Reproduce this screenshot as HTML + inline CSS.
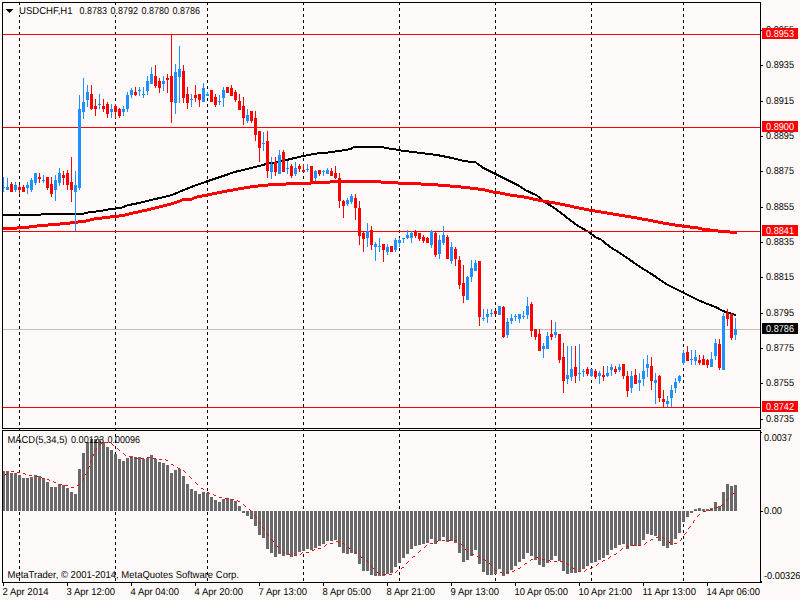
<!DOCTYPE html>
<html><head><meta charset="utf-8"><title>USDCHF,H1</title>
<style>html,body{margin:0;padding:0;background:#FFFAFA;overflow:hidden}svg{display:block}text{font-family:"Liberation Sans",sans-serif;font-size:10px;fill:#000;text-rendering:geometricPrecision}.w{fill:#fff}</style></head><body>
<svg width="800" height="600" viewBox="0 0 800 600">
<rect width="800" height="600" fill="#FFFAFA"/>
<g shape-rendering="crispEdges">
<line x1="19.5" y1="2" x2="19.5" y2="582" stroke="#000" stroke-width="1" stroke-dasharray="3 3"/>
<line x1="115.5" y1="2" x2="115.5" y2="582" stroke="#000" stroke-width="1" stroke-dasharray="3 3"/>
<line x1="207.5" y1="2" x2="207.5" y2="582" stroke="#000" stroke-width="1" stroke-dasharray="3 3"/>
<line x1="303.5" y1="2" x2="303.5" y2="582" stroke="#000" stroke-width="1" stroke-dasharray="3 3"/>
<line x1="399.5" y1="2" x2="399.5" y2="582" stroke="#000" stroke-width="1" stroke-dasharray="3 3"/>
<line x1="495.5" y1="2" x2="495.5" y2="582" stroke="#000" stroke-width="1" stroke-dasharray="3 3"/>
<line x1="591.5" y1="2" x2="591.5" y2="582" stroke="#000" stroke-width="1" stroke-dasharray="3 3"/>
<line x1="683.5" y1="2" x2="683.5" y2="582" stroke="#000" stroke-width="1" stroke-dasharray="3 3"/>
<rect x="3" y="329" width="757" height="1" fill="#C0C0C0"/>
<rect x="2" y="471" width="3" height="40" fill="#696969"/>
<rect x="6" y="471" width="3" height="40" fill="#696969"/>
<rect x="10" y="473" width="3" height="38" fill="#696969"/>
<rect x="14" y="473" width="3" height="38" fill="#696969"/>
<rect x="18" y="475" width="3" height="36" fill="#696969"/>
<rect x="22" y="478" width="3" height="33" fill="#696969"/>
<rect x="26" y="478" width="3" height="33" fill="#696969"/>
<rect x="30" y="477" width="3" height="34" fill="#696969"/>
<rect x="34" y="475" width="3" height="36" fill="#696969"/>
<rect x="38" y="476" width="3" height="35" fill="#696969"/>
<rect x="42" y="478" width="3" height="33" fill="#696969"/>
<rect x="46" y="482" width="3" height="29" fill="#696969"/>
<rect x="50" y="487" width="3" height="24" fill="#696969"/>
<rect x="54" y="487" width="3" height="24" fill="#696969"/>
<rect x="58" y="484" width="3" height="27" fill="#696969"/>
<rect x="62" y="485" width="3" height="26" fill="#696969"/>
<rect x="66" y="488" width="3" height="23" fill="#696969"/>
<rect x="70" y="492" width="3" height="19" fill="#696969"/>
<rect x="74" y="494" width="3" height="17" fill="#696969"/>
<rect x="78" y="469" width="3" height="42" fill="#696969"/>
<rect x="82" y="453" width="3" height="58" fill="#696969"/>
<rect x="86" y="442" width="3" height="69" fill="#696969"/>
<rect x="90" y="439" width="3" height="72" fill="#696969"/>
<rect x="94" y="439" width="3" height="72" fill="#696969"/>
<rect x="98" y="439" width="3" height="72" fill="#696969"/>
<rect x="102" y="442" width="3" height="69" fill="#696969"/>
<rect x="106" y="447" width="3" height="64" fill="#696969"/>
<rect x="110" y="450" width="3" height="61" fill="#696969"/>
<rect x="114" y="454" width="3" height="57" fill="#696969"/>
<rect x="118" y="459" width="3" height="52" fill="#696969"/>
<rect x="122" y="461" width="3" height="50" fill="#696969"/>
<rect x="126" y="458" width="3" height="53" fill="#696969"/>
<rect x="130" y="456" width="3" height="55" fill="#696969"/>
<rect x="134" y="457" width="3" height="54" fill="#696969"/>
<rect x="138" y="457" width="3" height="54" fill="#696969"/>
<rect x="142" y="459" width="3" height="52" fill="#696969"/>
<rect x="146" y="458" width="3" height="53" fill="#696969"/>
<rect x="150" y="455" width="3" height="56" fill="#696969"/>
<rect x="154" y="459" width="3" height="52" fill="#696969"/>
<rect x="158" y="462" width="3" height="49" fill="#696969"/>
<rect x="162" y="463" width="3" height="48" fill="#696969"/>
<rect x="166" y="465" width="3" height="46" fill="#696969"/>
<rect x="170" y="473" width="3" height="38" fill="#696969"/>
<rect x="174" y="470" width="3" height="41" fill="#696969"/>
<rect x="178" y="469" width="3" height="42" fill="#696969"/>
<rect x="182" y="476" width="3" height="35" fill="#696969"/>
<rect x="186" y="484" width="3" height="27" fill="#696969"/>
<rect x="190" y="489" width="3" height="22" fill="#696969"/>
<rect x="194" y="491" width="3" height="20" fill="#696969"/>
<rect x="198" y="494" width="3" height="17" fill="#696969"/>
<rect x="202" y="492" width="3" height="19" fill="#696969"/>
<rect x="206" y="493" width="3" height="18" fill="#696969"/>
<rect x="210" y="497" width="3" height="14" fill="#696969"/>
<rect x="214" y="500" width="3" height="11" fill="#696969"/>
<rect x="218" y="502" width="3" height="9" fill="#696969"/>
<rect x="222" y="499" width="3" height="12" fill="#696969"/>
<rect x="226" y="498" width="3" height="13" fill="#696969"/>
<rect x="230" y="499" width="3" height="12" fill="#696969"/>
<rect x="234" y="501" width="3" height="10" fill="#696969"/>
<rect x="238" y="506" width="3" height="5" fill="#696969"/>
<rect x="242" y="511" width="3" height="2" fill="#696969"/>
<rect x="246" y="511" width="3" height="5" fill="#696969"/>
<rect x="250" y="511" width="3" height="8" fill="#696969"/>
<rect x="254" y="511" width="3" height="15" fill="#696969"/>
<rect x="258" y="511" width="3" height="24" fill="#696969"/>
<rect x="262" y="511" width="3" height="27" fill="#696969"/>
<rect x="266" y="511" width="3" height="38" fill="#696969"/>
<rect x="270" y="511" width="3" height="42" fill="#696969"/>
<rect x="274" y="511" width="3" height="46" fill="#696969"/>
<rect x="278" y="511" width="3" height="43" fill="#696969"/>
<rect x="282" y="511" width="3" height="45" fill="#696969"/>
<rect x="286" y="511" width="3" height="44" fill="#696969"/>
<rect x="290" y="511" width="3" height="46" fill="#696969"/>
<rect x="294" y="511" width="3" height="44" fill="#696969"/>
<rect x="298" y="511" width="3" height="41" fill="#696969"/>
<rect x="302" y="511" width="3" height="40" fill="#696969"/>
<rect x="306" y="511" width="3" height="38" fill="#696969"/>
<rect x="310" y="511" width="3" height="39" fill="#696969"/>
<rect x="314" y="511" width="3" height="37" fill="#696969"/>
<rect x="318" y="511" width="3" height="35" fill="#696969"/>
<rect x="322" y="511" width="3" height="33" fill="#696969"/>
<rect x="326" y="511" width="3" height="30" fill="#696969"/>
<rect x="330" y="511" width="3" height="30" fill="#696969"/>
<rect x="334" y="511" width="3" height="29" fill="#696969"/>
<rect x="338" y="511" width="3" height="36" fill="#696969"/>
<rect x="342" y="511" width="3" height="42" fill="#696969"/>
<rect x="346" y="511" width="3" height="43" fill="#696969"/>
<rect x="350" y="511" width="3" height="42" fill="#696969"/>
<rect x="354" y="511" width="3" height="43" fill="#696969"/>
<rect x="358" y="511" width="3" height="53" fill="#696969"/>
<rect x="362" y="511" width="3" height="60" fill="#696969"/>
<rect x="366" y="511" width="3" height="60" fill="#696969"/>
<rect x="370" y="511" width="3" height="64" fill="#696969"/>
<rect x="374" y="511" width="3" height="65" fill="#696969"/>
<rect x="378" y="511" width="3" height="65" fill="#696969"/>
<rect x="382" y="511" width="3" height="65" fill="#696969"/>
<rect x="386" y="511" width="3" height="63" fill="#696969"/>
<rect x="390" y="511" width="3" height="62" fill="#696969"/>
<rect x="394" y="511" width="3" height="56" fill="#696969"/>
<rect x="398" y="511" width="3" height="52" fill="#696969"/>
<rect x="402" y="511" width="3" height="47" fill="#696969"/>
<rect x="406" y="511" width="3" height="43" fill="#696969"/>
<rect x="410" y="511" width="3" height="38" fill="#696969"/>
<rect x="414" y="511" width="3" height="35" fill="#696969"/>
<rect x="418" y="511" width="3" height="34" fill="#696969"/>
<rect x="422" y="511" width="3" height="33" fill="#696969"/>
<rect x="426" y="511" width="3" height="32" fill="#696969"/>
<rect x="430" y="511" width="3" height="28" fill="#696969"/>
<rect x="434" y="511" width="3" height="33" fill="#696969"/>
<rect x="438" y="511" width="3" height="30" fill="#696969"/>
<rect x="442" y="511" width="3" height="26" fill="#696969"/>
<rect x="446" y="511" width="3" height="31" fill="#696969"/>
<rect x="450" y="511" width="3" height="30" fill="#696969"/>
<rect x="454" y="511" width="3" height="32" fill="#696969"/>
<rect x="458" y="511" width="3" height="42" fill="#696969"/>
<rect x="462" y="511" width="3" height="51" fill="#696969"/>
<rect x="466" y="511" width="3" height="49" fill="#696969"/>
<rect x="470" y="511" width="3" height="45" fill="#696969"/>
<rect x="474" y="511" width="3" height="39" fill="#696969"/>
<rect x="478" y="511" width="3" height="53" fill="#696969"/>
<rect x="482" y="511" width="3" height="61" fill="#696969"/>
<rect x="486" y="511" width="3" height="64" fill="#696969"/>
<rect x="490" y="511" width="3" height="64" fill="#696969"/>
<rect x="494" y="511" width="3" height="63" fill="#696969"/>
<rect x="498" y="511" width="3" height="58" fill="#696969"/>
<rect x="502" y="511" width="3" height="65" fill="#696969"/>
<rect x="506" y="511" width="3" height="63" fill="#696969"/>
<rect x="510" y="511" width="3" height="59" fill="#696969"/>
<rect x="514" y="511" width="3" height="55" fill="#696969"/>
<rect x="518" y="511" width="3" height="51" fill="#696969"/>
<rect x="522" y="511" width="3" height="48" fill="#696969"/>
<rect x="526" y="511" width="3" height="42" fill="#696969"/>
<rect x="530" y="511" width="3" height="45" fill="#696969"/>
<rect x="534" y="511" width="3" height="49" fill="#696969"/>
<rect x="538" y="511" width="3" height="54" fill="#696969"/>
<rect x="542" y="511" width="3" height="56" fill="#696969"/>
<rect x="546" y="511" width="3" height="52" fill="#696969"/>
<rect x="550" y="511" width="3" height="49" fill="#696969"/>
<rect x="554" y="511" width="3" height="45" fill="#696969"/>
<rect x="558" y="511" width="3" height="50" fill="#696969"/>
<rect x="562" y="511" width="3" height="60" fill="#696969"/>
<rect x="566" y="511" width="3" height="63" fill="#696969"/>
<rect x="570" y="511" width="3" height="62" fill="#696969"/>
<rect x="574" y="511" width="3" height="62" fill="#696969"/>
<rect x="578" y="511" width="3" height="60" fill="#696969"/>
<rect x="582" y="511" width="3" height="58" fill="#696969"/>
<rect x="586" y="511" width="3" height="55" fill="#696969"/>
<rect x="590" y="511" width="3" height="52" fill="#696969"/>
<rect x="594" y="511" width="3" height="51" fill="#696969"/>
<rect x="598" y="511" width="3" height="49" fill="#696969"/>
<rect x="602" y="511" width="3" height="47" fill="#696969"/>
<rect x="606" y="511" width="3" height="44" fill="#696969"/>
<rect x="610" y="511" width="3" height="39" fill="#696969"/>
<rect x="614" y="511" width="3" height="37" fill="#696969"/>
<rect x="618" y="511" width="3" height="34" fill="#696969"/>
<rect x="622" y="511" width="3" height="33" fill="#696969"/>
<rect x="626" y="511" width="3" height="38" fill="#696969"/>
<rect x="630" y="511" width="3" height="35" fill="#696969"/>
<rect x="634" y="511" width="3" height="35" fill="#696969"/>
<rect x="638" y="511" width="3" height="35" fill="#696969"/>
<rect x="642" y="511" width="3" height="29" fill="#696969"/>
<rect x="646" y="511" width="3" height="23" fill="#696969"/>
<rect x="650" y="511" width="3" height="24" fill="#696969"/>
<rect x="654" y="511" width="3" height="25" fill="#696969"/>
<rect x="658" y="511" width="3" height="30" fill="#696969"/>
<rect x="662" y="511" width="3" height="35" fill="#696969"/>
<rect x="666" y="511" width="3" height="37" fill="#696969"/>
<rect x="670" y="511" width="3" height="34" fill="#696969"/>
<rect x="674" y="511" width="3" height="28" fill="#696969"/>
<rect x="678" y="511" width="3" height="22" fill="#696969"/>
<rect x="682" y="511" width="3" height="11" fill="#696969"/>
<rect x="686" y="511" width="3" height="6" fill="#696969"/>
<rect x="690" y="511" width="3" height="2" fill="#696969"/>
<rect x="694" y="509" width="3" height="2" fill="#696969"/>
<rect x="698" y="508" width="3" height="3" fill="#696969"/>
<rect x="702" y="509" width="3" height="2" fill="#696969"/>
<rect x="706" y="509" width="3" height="2" fill="#696969"/>
<rect x="710" y="508" width="3" height="3" fill="#696969"/>
<rect x="714" y="502" width="3" height="9" fill="#696969"/>
<rect x="718" y="506" width="3" height="5" fill="#696969"/>
<rect x="722" y="492" width="3" height="19" fill="#696969"/>
<rect x="726" y="484" width="3" height="27" fill="#696969"/>
<rect x="730" y="486" width="3" height="25" fill="#696969"/>
<rect x="734" y="485" width="3" height="26" fill="#696969"/>
</g>
<g shape-rendering="crispEdges" fill="none">
<rect x="3" y="214" width="38" height="2" fill="#000"/>
<rect x="41" y="213" width="43" height="2" fill="#000"/>
<rect x="84" y="212" width="4" height="2" fill="#000"/>
<rect x="88" y="211" width="8" height="2" fill="#000"/>
<rect x="96" y="210" width="7" height="2" fill="#000"/>
<rect x="103" y="209" width="5" height="2" fill="#000"/>
<rect x="108" y="208" width="8" height="2" fill="#000"/>
<rect x="116" y="207" width="6" height="2" fill="#000"/>
<rect x="122" y="206" width="2" height="2" fill="#000"/>
<rect x="124" y="205" width="1" height="3" fill="#000"/>
<rect x="125" y="205" width="2" height="2" fill="#000"/>
<rect x="127" y="204" width="4" height="2" fill="#000"/>
<rect x="131" y="203" width="1" height="3" fill="#000"/>
<rect x="132" y="203" width="4" height="2" fill="#000"/>
<rect x="136" y="202" width="1" height="3" fill="#000"/>
<rect x="137" y="202" width="4" height="2" fill="#000"/>
<rect x="141" y="201" width="4" height="2" fill="#000"/>
<rect x="145" y="200" width="4" height="2" fill="#000"/>
<rect x="149" y="199" width="4" height="2" fill="#000"/>
<rect x="153" y="198" width="4" height="2" fill="#000"/>
<rect x="157" y="197" width="1" height="3" fill="#000"/>
<rect x="158" y="197" width="4" height="2" fill="#000"/>
<rect x="162" y="196" width="4" height="2" fill="#000"/>
<rect x="166" y="195" width="4" height="2" fill="#000"/>
<rect x="170" y="194" width="3" height="2" fill="#000"/>
<rect x="173" y="193" width="2" height="2" fill="#000"/>
<rect x="175" y="192" width="1" height="3" fill="#000"/>
<rect x="176" y="192" width="2" height="2" fill="#000"/>
<rect x="178" y="191" width="2" height="2" fill="#000"/>
<rect x="180" y="190" width="2" height="2" fill="#000"/>
<rect x="182" y="189" width="1" height="3" fill="#000"/>
<rect x="183" y="189" width="2" height="2" fill="#000"/>
<rect x="185" y="188" width="2" height="2" fill="#000"/>
<rect x="187" y="187" width="1" height="3" fill="#000"/>
<rect x="188" y="187" width="2" height="2" fill="#000"/>
<rect x="190" y="186" width="2" height="2" fill="#000"/>
<rect x="192" y="185" width="1" height="3" fill="#000"/>
<rect x="193" y="185" width="2" height="2" fill="#000"/>
<rect x="195" y="184" width="3" height="2" fill="#000"/>
<rect x="198" y="183" width="3" height="2" fill="#000"/>
<rect x="201" y="182" width="3" height="2" fill="#000"/>
<rect x="204" y="181" width="2" height="2" fill="#000"/>
<rect x="206" y="180" width="1" height="3" fill="#000"/>
<rect x="207" y="180" width="2" height="2" fill="#000"/>
<rect x="209" y="179" width="1" height="3" fill="#000"/>
<rect x="210" y="179" width="2" height="2" fill="#000"/>
<rect x="212" y="178" width="1" height="3" fill="#000"/>
<rect x="213" y="178" width="2" height="2" fill="#000"/>
<rect x="215" y="177" width="1" height="3" fill="#000"/>
<rect x="216" y="177" width="2" height="2" fill="#000"/>
<rect x="218" y="176" width="1" height="3" fill="#000"/>
<rect x="219" y="176" width="2" height="2" fill="#000"/>
<rect x="221" y="175" width="1" height="3" fill="#000"/>
<rect x="222" y="175" width="2" height="2" fill="#000"/>
<rect x="224" y="174" width="1" height="3" fill="#000"/>
<rect x="225" y="174" width="2" height="2" fill="#000"/>
<rect x="227" y="173" width="1" height="3" fill="#000"/>
<rect x="228" y="173" width="2" height="2" fill="#000"/>
<rect x="230" y="172" width="3" height="2" fill="#000"/>
<rect x="233" y="171" width="3" height="2" fill="#000"/>
<rect x="236" y="170" width="1" height="3" fill="#000"/>
<rect x="237" y="170" width="4" height="2" fill="#000"/>
<rect x="241" y="169" width="4" height="2" fill="#000"/>
<rect x="245" y="168" width="4" height="2" fill="#000"/>
<rect x="249" y="167" width="4" height="2" fill="#000"/>
<rect x="253" y="166" width="4" height="2" fill="#000"/>
<rect x="257" y="165" width="4" height="2" fill="#000"/>
<rect x="261" y="164" width="3" height="2" fill="#000"/>
<rect x="264" y="163" width="1" height="3" fill="#000"/>
<rect x="265" y="163" width="4" height="2" fill="#000"/>
<rect x="269" y="162" width="7" height="2" fill="#000"/>
<rect x="276" y="161" width="4" height="2" fill="#000"/>
<rect x="280" y="160" width="4" height="2" fill="#000"/>
<rect x="284" y="159" width="4" height="2" fill="#000"/>
<rect x="288" y="158" width="1" height="3" fill="#000"/>
<rect x="289" y="158" width="3" height="2" fill="#000"/>
<rect x="292" y="157" width="1" height="3" fill="#000"/>
<rect x="293" y="157" width="4" height="2" fill="#000"/>
<rect x="297" y="156" width="4" height="2" fill="#000"/>
<rect x="301" y="155" width="5" height="2" fill="#000"/>
<rect x="306" y="154" width="5" height="2" fill="#000"/>
<rect x="311" y="153" width="6" height="2" fill="#000"/>
<rect x="317" y="152" width="11" height="2" fill="#000"/>
<rect x="328" y="151" width="7" height="2" fill="#000"/>
<rect x="335" y="150" width="7" height="2" fill="#000"/>
<rect x="342" y="149" width="6" height="2" fill="#000"/>
<rect x="348" y="148" width="3" height="2" fill="#000"/>
<rect x="351" y="147" width="1" height="3" fill="#000"/>
<rect x="352" y="147" width="1" height="2" fill="#000"/>
<rect x="353" y="146" width="31" height="2" fill="#000"/>
<rect x="384" y="147" width="5" height="2" fill="#000"/>
<rect x="389" y="148" width="7" height="2" fill="#000"/>
<rect x="396" y="149" width="5" height="2" fill="#000"/>
<rect x="401" y="150" width="8" height="2" fill="#000"/>
<rect x="409" y="151" width="8" height="2" fill="#000"/>
<rect x="417" y="152" width="8" height="2" fill="#000"/>
<rect x="425" y="153" width="8" height="2" fill="#000"/>
<rect x="433" y="154" width="6" height="2" fill="#000"/>
<rect x="439" y="154" width="1" height="3" fill="#000"/>
<rect x="440" y="155" width="4" height="2" fill="#000"/>
<rect x="444" y="155" width="1" height="3" fill="#000"/>
<rect x="445" y="156" width="4" height="2" fill="#000"/>
<rect x="449" y="156" width="1" height="3" fill="#000"/>
<rect x="450" y="157" width="4" height="2" fill="#000"/>
<rect x="454" y="158" width="4" height="2" fill="#000"/>
<rect x="458" y="159" width="4" height="2" fill="#000"/>
<rect x="462" y="160" width="6" height="2" fill="#000"/>
<rect x="468" y="161" width="8" height="2" fill="#000"/>
<rect x="476" y="162" width="1" height="2" fill="#000"/>
<rect x="477" y="163" width="1" height="2" fill="#000"/>
<rect x="478" y="163" width="1" height="3" fill="#000"/>
<rect x="479" y="164" width="1" height="2" fill="#000"/>
<rect x="480" y="165" width="1" height="2" fill="#000"/>
<rect x="481" y="165" width="1" height="3" fill="#000"/>
<rect x="482" y="166" width="1" height="3" fill="#000"/>
<rect x="483" y="167" width="1" height="2" fill="#000"/>
<rect x="484" y="167" width="1" height="3" fill="#000"/>
<rect x="485" y="168" width="1" height="2" fill="#000"/>
<rect x="486" y="168" width="1" height="3" fill="#000"/>
<rect x="487" y="169" width="1" height="2" fill="#000"/>
<rect x="488" y="169" width="1" height="3" fill="#000"/>
<rect x="489" y="170" width="1" height="2" fill="#000"/>
<rect x="490" y="170" width="1" height="3" fill="#000"/>
<rect x="491" y="171" width="1" height="2" fill="#000"/>
<rect x="492" y="171" width="1" height="3" fill="#000"/>
<rect x="493" y="172" width="1" height="2" fill="#000"/>
<rect x="494" y="172" width="1" height="3" fill="#000"/>
<rect x="495" y="173" width="1" height="2" fill="#000"/>
<rect x="496" y="173" width="1" height="3" fill="#000"/>
<rect x="497" y="174" width="1" height="2" fill="#000"/>
<rect x="498" y="174" width="1" height="3" fill="#000"/>
<rect x="499" y="175" width="1" height="2" fill="#000"/>
<rect x="500" y="175" width="1" height="3" fill="#000"/>
<rect x="501" y="176" width="1" height="2" fill="#000"/>
<rect x="502" y="176" width="1" height="3" fill="#000"/>
<rect x="503" y="177" width="1" height="2" fill="#000"/>
<rect x="504" y="177" width="1" height="3" fill="#000"/>
<rect x="505" y="178" width="1" height="2" fill="#000"/>
<rect x="506" y="178" width="1" height="3" fill="#000"/>
<rect x="507" y="179" width="1" height="2" fill="#000"/>
<rect x="508" y="179" width="1" height="3" fill="#000"/>
<rect x="509" y="180" width="1" height="2" fill="#000"/>
<rect x="510" y="180" width="1" height="3" fill="#000"/>
<rect x="511" y="181" width="1" height="2" fill="#000"/>
<rect x="512" y="181" width="1" height="3" fill="#000"/>
<rect x="513" y="182" width="1" height="2" fill="#000"/>
<rect x="514" y="182" width="1" height="3" fill="#000"/>
<rect x="515" y="183" width="1" height="2" fill="#000"/>
<rect x="516" y="183" width="1" height="3" fill="#000"/>
<rect x="517" y="184" width="1" height="2" fill="#000"/>
<rect x="518" y="184" width="1" height="3" fill="#000"/>
<rect x="519" y="185" width="1" height="2" fill="#000"/>
<rect x="520" y="186" width="1" height="2" fill="#000"/>
<rect x="521" y="186" width="1" height="3" fill="#000"/>
<rect x="522" y="187" width="1" height="2" fill="#000"/>
<rect x="523" y="188" width="1" height="2" fill="#000"/>
<rect x="524" y="188" width="1" height="3" fill="#000"/>
<rect x="525" y="189" width="1" height="2" fill="#000"/>
<rect x="526" y="190" width="2" height="2" fill="#000"/>
<rect x="528" y="190" width="1" height="3" fill="#000"/>
<rect x="529" y="191" width="1" height="2" fill="#000"/>
<rect x="530" y="191" width="1" height="3" fill="#000"/>
<rect x="531" y="192" width="1" height="2" fill="#000"/>
<rect x="532" y="192" width="1" height="3" fill="#000"/>
<rect x="533" y="193" width="2" height="2" fill="#000"/>
<rect x="535" y="194" width="2" height="2" fill="#000"/>
<rect x="537" y="195" width="1" height="2" fill="#000"/>
<rect x="538" y="196" width="1" height="2" fill="#000"/>
<rect x="539" y="196" width="1" height="3" fill="#000"/>
<rect x="540" y="197" width="1" height="3" fill="#000"/>
<rect x="541" y="198" width="1" height="3" fill="#000"/>
<rect x="542" y="199" width="1" height="2" fill="#000"/>
<rect x="543" y="200" width="1" height="2" fill="#000"/>
<rect x="544" y="200" width="1" height="3" fill="#000"/>
<rect x="545" y="201" width="1" height="3" fill="#000"/>
<rect x="546" y="202" width="1" height="2" fill="#000"/>
<rect x="547" y="202" width="1" height="3" fill="#000"/>
<rect x="548" y="203" width="1" height="3" fill="#000"/>
<rect x="549" y="204" width="1" height="2" fill="#000"/>
<rect x="550" y="204" width="1" height="3" fill="#000"/>
<rect x="551" y="205" width="1" height="2" fill="#000"/>
<rect x="552" y="206" width="1" height="2" fill="#000"/>
<rect x="553" y="206" width="1" height="3" fill="#000"/>
<rect x="554" y="207" width="1" height="2" fill="#000"/>
<rect x="555" y="208" width="1" height="2" fill="#000"/>
<rect x="556" y="208" width="1" height="3" fill="#000"/>
<rect x="557" y="209" width="1" height="3" fill="#000"/>
<rect x="558" y="210" width="1" height="2" fill="#000"/>
<rect x="559" y="211" width="1" height="2" fill="#000"/>
<rect x="560" y="211" width="1" height="3" fill="#000"/>
<rect x="561" y="212" width="1" height="3" fill="#000"/>
<rect x="562" y="213" width="1" height="2" fill="#000"/>
<rect x="563" y="214" width="1" height="2" fill="#000"/>
<rect x="564" y="214" width="1" height="3" fill="#000"/>
<rect x="565" y="215" width="1" height="3" fill="#000"/>
<rect x="566" y="216" width="1" height="3" fill="#000"/>
<rect x="567" y="217" width="1" height="2" fill="#000"/>
<rect x="568" y="218" width="1" height="2" fill="#000"/>
<rect x="569" y="218" width="1" height="3" fill="#000"/>
<rect x="570" y="219" width="1" height="3" fill="#000"/>
<rect x="571" y="220" width="1" height="2" fill="#000"/>
<rect x="572" y="221" width="1" height="2" fill="#000"/>
<rect x="573" y="221" width="1" height="3" fill="#000"/>
<rect x="574" y="222" width="1" height="3" fill="#000"/>
<rect x="575" y="223" width="1" height="2" fill="#000"/>
<rect x="576" y="224" width="1" height="2" fill="#000"/>
<rect x="577" y="224" width="1" height="3" fill="#000"/>
<rect x="578" y="225" width="1" height="2" fill="#000"/>
<rect x="579" y="226" width="2" height="2" fill="#000"/>
<rect x="581" y="227" width="1" height="2" fill="#000"/>
<rect x="582" y="227" width="1" height="3" fill="#000"/>
<rect x="583" y="228" width="1" height="2" fill="#000"/>
<rect x="584" y="228" width="1" height="3" fill="#000"/>
<rect x="585" y="229" width="1" height="2" fill="#000"/>
<rect x="586" y="230" width="2" height="2" fill="#000"/>
<rect x="588" y="231" width="1" height="2" fill="#000"/>
<rect x="589" y="231" width="1" height="3" fill="#000"/>
<rect x="590" y="232" width="1" height="3" fill="#000"/>
<rect x="591" y="233" width="1" height="2" fill="#000"/>
<rect x="592" y="234" width="1" height="2" fill="#000"/>
<rect x="593" y="234" width="1" height="3" fill="#000"/>
<rect x="594" y="235" width="1" height="3" fill="#000"/>
<rect x="595" y="236" width="1" height="2" fill="#000"/>
<rect x="596" y="237" width="2" height="2" fill="#000"/>
<rect x="598" y="237" width="1" height="3" fill="#000"/>
<rect x="599" y="238" width="2" height="2" fill="#000"/>
<rect x="601" y="239" width="1" height="2" fill="#000"/>
<rect x="602" y="240" width="1" height="2" fill="#000"/>
<rect x="603" y="240" width="1" height="3" fill="#000"/>
<rect x="604" y="241" width="1" height="3" fill="#000"/>
<rect x="605" y="242" width="1" height="3" fill="#000"/>
<rect x="606" y="243" width="1" height="2" fill="#000"/>
<rect x="607" y="244" width="1" height="2" fill="#000"/>
<rect x="608" y="244" width="1" height="3" fill="#000"/>
<rect x="609" y="245" width="1" height="3" fill="#000"/>
<rect x="610" y="246" width="1" height="2" fill="#000"/>
<rect x="611" y="247" width="1" height="2" fill="#000"/>
<rect x="612" y="247" width="1" height="3" fill="#000"/>
<rect x="613" y="248" width="1" height="2" fill="#000"/>
<rect x="614" y="249" width="2" height="2" fill="#000"/>
<rect x="616" y="250" width="1" height="2" fill="#000"/>
<rect x="617" y="250" width="1" height="3" fill="#000"/>
<rect x="618" y="251" width="1" height="2" fill="#000"/>
<rect x="619" y="252" width="1" height="2" fill="#000"/>
<rect x="620" y="252" width="1" height="3" fill="#000"/>
<rect x="621" y="253" width="1" height="2" fill="#000"/>
<rect x="622" y="254" width="1" height="2" fill="#000"/>
<rect x="623" y="254" width="1" height="3" fill="#000"/>
<rect x="624" y="255" width="1" height="2" fill="#000"/>
<rect x="625" y="256" width="1" height="2" fill="#000"/>
<rect x="626" y="256" width="1" height="3" fill="#000"/>
<rect x="627" y="257" width="1" height="2" fill="#000"/>
<rect x="628" y="258" width="1" height="2" fill="#000"/>
<rect x="629" y="258" width="1" height="3" fill="#000"/>
<rect x="630" y="259" width="1" height="3" fill="#000"/>
<rect x="631" y="260" width="1" height="2" fill="#000"/>
<rect x="632" y="260" width="1" height="3" fill="#000"/>
<rect x="633" y="261" width="1" height="3" fill="#000"/>
<rect x="634" y="262" width="1" height="2" fill="#000"/>
<rect x="635" y="263" width="1" height="2" fill="#000"/>
<rect x="636" y="263" width="1" height="3" fill="#000"/>
<rect x="637" y="264" width="1" height="2" fill="#000"/>
<rect x="638" y="265" width="1" height="2" fill="#000"/>
<rect x="639" y="265" width="1" height="3" fill="#000"/>
<rect x="640" y="266" width="1" height="2" fill="#000"/>
<rect x="641" y="267" width="1" height="2" fill="#000"/>
<rect x="642" y="267" width="1" height="3" fill="#000"/>
<rect x="643" y="268" width="1" height="2" fill="#000"/>
<rect x="644" y="269" width="2" height="2" fill="#000"/>
<rect x="646" y="270" width="1" height="2" fill="#000"/>
<rect x="647" y="270" width="1" height="3" fill="#000"/>
<rect x="648" y="271" width="1" height="2" fill="#000"/>
<rect x="649" y="272" width="1" height="2" fill="#000"/>
<rect x="650" y="272" width="1" height="3" fill="#000"/>
<rect x="651" y="273" width="1" height="2" fill="#000"/>
<rect x="652" y="273" width="1" height="3" fill="#000"/>
<rect x="653" y="274" width="1" height="3" fill="#000"/>
<rect x="654" y="275" width="1" height="2" fill="#000"/>
<rect x="655" y="275" width="1" height="3" fill="#000"/>
<rect x="656" y="276" width="1" height="3" fill="#000"/>
<rect x="657" y="277" width="1" height="2" fill="#000"/>
<rect x="658" y="278" width="1" height="2" fill="#000"/>
<rect x="659" y="278" width="1" height="3" fill="#000"/>
<rect x="660" y="279" width="1" height="2" fill="#000"/>
<rect x="661" y="280" width="1" height="2" fill="#000"/>
<rect x="662" y="280" width="1" height="3" fill="#000"/>
<rect x="663" y="281" width="1" height="2" fill="#000"/>
<rect x="664" y="282" width="1" height="2" fill="#000"/>
<rect x="665" y="282" width="1" height="3" fill="#000"/>
<rect x="666" y="283" width="1" height="2" fill="#000"/>
<rect x="667" y="284" width="2" height="2" fill="#000"/>
<rect x="669" y="285" width="2" height="2" fill="#000"/>
<rect x="671" y="286" width="2" height="2" fill="#000"/>
<rect x="673" y="287" width="2" height="2" fill="#000"/>
<rect x="675" y="288" width="2" height="2" fill="#000"/>
<rect x="677" y="289" width="2" height="2" fill="#000"/>
<rect x="679" y="290" width="2" height="2" fill="#000"/>
<rect x="681" y="291" width="2" height="2" fill="#000"/>
<rect x="683" y="292" width="2" height="2" fill="#000"/>
<rect x="685" y="293" width="2" height="2" fill="#000"/>
<rect x="687" y="294" width="2" height="2" fill="#000"/>
<rect x="689" y="295" width="2" height="2" fill="#000"/>
<rect x="691" y="296" width="2" height="2" fill="#000"/>
<rect x="693" y="297" width="2" height="2" fill="#000"/>
<rect x="695" y="298" width="2" height="2" fill="#000"/>
<rect x="697" y="299" width="2" height="2" fill="#000"/>
<rect x="699" y="300" width="2" height="2" fill="#000"/>
<rect x="701" y="300" width="1" height="3" fill="#000"/>
<rect x="702" y="301" width="2" height="2" fill="#000"/>
<rect x="704" y="302" width="2" height="2" fill="#000"/>
<rect x="706" y="303" width="3" height="2" fill="#000"/>
<rect x="709" y="304" width="2" height="2" fill="#000"/>
<rect x="711" y="304" width="1" height="3" fill="#000"/>
<rect x="712" y="305" width="2" height="2" fill="#000"/>
<rect x="714" y="306" width="2" height="2" fill="#000"/>
<rect x="716" y="306" width="1" height="3" fill="#000"/>
<rect x="717" y="307" width="1" height="2" fill="#000"/>
<rect x="718" y="307" width="1" height="3" fill="#000"/>
<rect x="719" y="308" width="1" height="2" fill="#000"/>
<rect x="720" y="309" width="2" height="2" fill="#000"/>
<rect x="722" y="310" width="2" height="2" fill="#000"/>
<rect x="724" y="310" width="1" height="3" fill="#000"/>
<rect x="725" y="311" width="3" height="2" fill="#000"/>
<rect x="728" y="312" width="3" height="2" fill="#000"/>
<rect x="731" y="313" width="3" height="2" fill="#000"/>
<rect x="734" y="314" width="2" height="2" fill="#000"/>
<rect x="3" y="227" width="14" height="3" fill="#FF0000"/>
<rect x="17" y="226" width="12" height="3" fill="#FF0000"/>
<rect x="29" y="225" width="8" height="3" fill="#FF0000"/>
<rect x="37" y="224" width="11" height="3" fill="#FF0000"/>
<rect x="48" y="223" width="12" height="3" fill="#FF0000"/>
<rect x="60" y="222" width="10" height="3" fill="#FF0000"/>
<rect x="70" y="221" width="8" height="3" fill="#FF0000"/>
<rect x="78" y="220" width="8" height="3" fill="#FF0000"/>
<rect x="86" y="219" width="4" height="3" fill="#FF0000"/>
<rect x="90" y="218" width="4" height="3" fill="#FF0000"/>
<rect x="94" y="217" width="8" height="3" fill="#FF0000"/>
<rect x="102" y="216" width="8" height="3" fill="#FF0000"/>
<rect x="110" y="215" width="9" height="3" fill="#FF0000"/>
<rect x="119" y="214" width="6" height="3" fill="#FF0000"/>
<rect x="125" y="213" width="4" height="3" fill="#FF0000"/>
<rect x="129" y="212" width="4" height="3" fill="#FF0000"/>
<rect x="133" y="211" width="5" height="3" fill="#FF0000"/>
<rect x="138" y="210" width="4" height="3" fill="#FF0000"/>
<rect x="142" y="209" width="5" height="3" fill="#FF0000"/>
<rect x="147" y="208" width="4" height="3" fill="#FF0000"/>
<rect x="151" y="207" width="4" height="3" fill="#FF0000"/>
<rect x="155" y="206" width="4" height="3" fill="#FF0000"/>
<rect x="159" y="205" width="4" height="3" fill="#FF0000"/>
<rect x="163" y="204" width="4" height="3" fill="#FF0000"/>
<rect x="167" y="203" width="4" height="3" fill="#FF0000"/>
<rect x="171" y="202" width="3" height="3" fill="#FF0000"/>
<rect x="174" y="201" width="3" height="3" fill="#FF0000"/>
<rect x="177" y="200" width="3" height="3" fill="#FF0000"/>
<rect x="180" y="199" width="2" height="3" fill="#FF0000"/>
<rect x="182" y="198" width="10" height="3" fill="#FF0000"/>
<rect x="192" y="197" width="2" height="3" fill="#FF0000"/>
<rect x="194" y="196" width="3" height="3" fill="#FF0000"/>
<rect x="197" y="195" width="5" height="3" fill="#FF0000"/>
<rect x="202" y="194" width="5" height="3" fill="#FF0000"/>
<rect x="207" y="193" width="5" height="3" fill="#FF0000"/>
<rect x="212" y="192" width="5" height="3" fill="#FF0000"/>
<rect x="217" y="191" width="5" height="3" fill="#FF0000"/>
<rect x="222" y="190" width="5" height="3" fill="#FF0000"/>
<rect x="227" y="189" width="6" height="3" fill="#FF0000"/>
<rect x="233" y="188" width="5" height="3" fill="#FF0000"/>
<rect x="238" y="187" width="6" height="3" fill="#FF0000"/>
<rect x="244" y="186" width="6" height="3" fill="#FF0000"/>
<rect x="250" y="185" width="8" height="3" fill="#FF0000"/>
<rect x="258" y="184" width="10" height="3" fill="#FF0000"/>
<rect x="268" y="183" width="18" height="3" fill="#FF0000"/>
<rect x="286" y="182" width="25" height="3" fill="#FF0000"/>
<rect x="311" y="181" width="19" height="3" fill="#FF0000"/>
<rect x="330" y="180" width="51" height="3" fill="#FF0000"/>
<rect x="381" y="181" width="17" height="3" fill="#FF0000"/>
<rect x="398" y="182" width="23" height="3" fill="#FF0000"/>
<rect x="421" y="183" width="17" height="3" fill="#FF0000"/>
<rect x="438" y="184" width="12" height="3" fill="#FF0000"/>
<rect x="450" y="185" width="11" height="3" fill="#FF0000"/>
<rect x="461" y="186" width="9" height="3" fill="#FF0000"/>
<rect x="470" y="187" width="8" height="3" fill="#FF0000"/>
<rect x="478" y="188" width="7" height="3" fill="#FF0000"/>
<rect x="485" y="189" width="4" height="3" fill="#FF0000"/>
<rect x="489" y="190" width="4" height="3" fill="#FF0000"/>
<rect x="493" y="191" width="7" height="3" fill="#FF0000"/>
<rect x="500" y="192" width="5" height="3" fill="#FF0000"/>
<rect x="505" y="193" width="5" height="3" fill="#FF0000"/>
<rect x="510" y="194" width="7" height="3" fill="#FF0000"/>
<rect x="517" y="195" width="7" height="3" fill="#FF0000"/>
<rect x="524" y="196" width="5" height="3" fill="#FF0000"/>
<rect x="529" y="197" width="4" height="3" fill="#FF0000"/>
<rect x="533" y="198" width="5" height="3" fill="#FF0000"/>
<rect x="538" y="199" width="5" height="3" fill="#FF0000"/>
<rect x="543" y="200" width="6" height="3" fill="#FF0000"/>
<rect x="549" y="201" width="6" height="3" fill="#FF0000"/>
<rect x="555" y="202" width="5" height="3" fill="#FF0000"/>
<rect x="560" y="203" width="5" height="3" fill="#FF0000"/>
<rect x="565" y="204" width="5" height="3" fill="#FF0000"/>
<rect x="570" y="205" width="4" height="3" fill="#FF0000"/>
<rect x="574" y="206" width="5" height="3" fill="#FF0000"/>
<rect x="579" y="207" width="5" height="3" fill="#FF0000"/>
<rect x="584" y="208" width="5" height="3" fill="#FF0000"/>
<rect x="589" y="209" width="6" height="3" fill="#FF0000"/>
<rect x="595" y="210" width="6" height="3" fill="#FF0000"/>
<rect x="601" y="211" width="6" height="3" fill="#FF0000"/>
<rect x="607" y="212" width="6" height="3" fill="#FF0000"/>
<rect x="613" y="213" width="6" height="3" fill="#FF0000"/>
<rect x="619" y="214" width="6" height="3" fill="#FF0000"/>
<rect x="625" y="215" width="6" height="3" fill="#FF0000"/>
<rect x="631" y="216" width="6" height="3" fill="#FF0000"/>
<rect x="637" y="217" width="5" height="3" fill="#FF0000"/>
<rect x="642" y="218" width="6" height="3" fill="#FF0000"/>
<rect x="648" y="219" width="5" height="3" fill="#FF0000"/>
<rect x="653" y="220" width="5" height="3" fill="#FF0000"/>
<rect x="658" y="221" width="5" height="3" fill="#FF0000"/>
<rect x="663" y="222" width="6" height="3" fill="#FF0000"/>
<rect x="669" y="223" width="6" height="3" fill="#FF0000"/>
<rect x="675" y="224" width="7" height="3" fill="#FF0000"/>
<rect x="682" y="225" width="8" height="3" fill="#FF0000"/>
<rect x="690" y="226" width="8" height="3" fill="#FF0000"/>
<rect x="698" y="227" width="4" height="3" fill="#FF0000"/>
<rect x="702" y="228" width="8" height="3" fill="#FF0000"/>
<rect x="710" y="229" width="8" height="3" fill="#FF0000"/>
<rect x="718" y="230" width="12" height="3" fill="#FF0000"/>
<rect x="730" y="231" width="7" height="3" fill="#FF0000"/>
<rect x="105" y="442" width="3" height="1" fill="#FF0000"/>
<rect x="101" y="443" width="1" height="1" fill="#FF0000"/>
<rect x="111" y="443" width="1" height="1" fill="#FF0000"/>
<rect x="99" y="444" width="2" height="1" fill="#FF0000"/>
<rect x="112" y="444" width="1" height="1" fill="#FF0000"/>
<rect x="113" y="445" width="1" height="1" fill="#FF0000"/>
<rect x="96" y="448" width="1" height="1" fill="#FF0000"/>
<rect x="117" y="448" width="1" height="1" fill="#FF0000"/>
<rect x="96" y="449" width="1" height="1" fill="#FF0000"/>
<rect x="118" y="449" width="1" height="1" fill="#FF0000"/>
<rect x="95" y="450" width="1" height="1" fill="#FF0000"/>
<rect x="119" y="450" width="1" height="1" fill="#FF0000"/>
<rect x="123" y="453" width="1" height="1" fill="#FF0000"/>
<rect x="93" y="454" width="1" height="1" fill="#FF0000"/>
<rect x="124" y="454" width="1" height="1" fill="#FF0000"/>
<rect x="93" y="455" width="1" height="1" fill="#FF0000"/>
<rect x="125" y="455" width="1" height="1" fill="#FF0000"/>
<rect x="92" y="456" width="1" height="1" fill="#FF0000"/>
<rect x="129" y="456" width="1" height="1" fill="#FF0000"/>
<rect x="130" y="457" width="2" height="1" fill="#FF0000"/>
<rect x="147" y="457" width="3" height="1" fill="#FF0000"/>
<rect x="135" y="458" width="3" height="1" fill="#FF0000"/>
<rect x="141" y="458" width="3" height="1" fill="#FF0000"/>
<rect x="153" y="458" width="3" height="1" fill="#FF0000"/>
<rect x="159" y="459" width="3" height="1" fill="#FF0000"/>
<rect x="165" y="459" width="1" height="1" fill="#FF0000"/>
<rect x="91" y="460" width="1" height="1" fill="#FF0000"/>
<rect x="166" y="460" width="2" height="1" fill="#FF0000"/>
<rect x="90" y="461" width="1" height="1" fill="#FF0000"/>
<rect x="90" y="462" width="1" height="1" fill="#FF0000"/>
<rect x="171" y="464" width="2" height="1" fill="#FF0000"/>
<rect x="173" y="465" width="1" height="1" fill="#FF0000"/>
<rect x="89" y="466" width="1" height="1" fill="#FF0000"/>
<rect x="88" y="467" width="1" height="1" fill="#FF0000"/>
<rect x="177" y="467" width="1" height="1" fill="#FF0000"/>
<rect x="88" y="468" width="1" height="1" fill="#FF0000"/>
<rect x="178" y="468" width="2" height="1" fill="#FF0000"/>
<rect x="183" y="470" width="1" height="1" fill="#FF0000"/>
<rect x="11" y="471" width="3" height="1" fill="#FF0000"/>
<rect x="184" y="471" width="1" height="1" fill="#FF0000"/>
<rect x="17" y="472" width="3" height="1" fill="#FF0000"/>
<rect x="87" y="472" width="1" height="1" fill="#FF0000"/>
<rect x="185" y="472" width="1" height="1" fill="#FF0000"/>
<rect x="7" y="473" width="1" height="1" fill="#FF0000"/>
<rect x="23" y="473" width="2" height="1" fill="#FF0000"/>
<rect x="86" y="473" width="1" height="1" fill="#FF0000"/>
<rect x="5" y="474" width="2" height="1" fill="#FF0000"/>
<rect x="25" y="474" width="1" height="1" fill="#FF0000"/>
<rect x="85" y="474" width="1" height="1" fill="#FF0000"/>
<rect x="29" y="475" width="3" height="1" fill="#FF0000"/>
<rect x="35" y="476" width="3" height="1" fill="#FF0000"/>
<rect x="189" y="476" width="1" height="1" fill="#FF0000"/>
<rect x="41" y="477" width="1" height="1" fill="#FF0000"/>
<rect x="190" y="477" width="1" height="1" fill="#FF0000"/>
<rect x="42" y="478" width="2" height="1" fill="#FF0000"/>
<rect x="83" y="478" width="1" height="1" fill="#FF0000"/>
<rect x="191" y="478" width="1" height="1" fill="#FF0000"/>
<rect x="47" y="479" width="2" height="1" fill="#FF0000"/>
<rect x="83" y="479" width="1" height="1" fill="#FF0000"/>
<rect x="49" y="480" width="1" height="1" fill="#FF0000"/>
<rect x="82" y="480" width="1" height="1" fill="#FF0000"/>
<rect x="53" y="481" width="1" height="1" fill="#FF0000"/>
<rect x="54" y="482" width="2" height="1" fill="#FF0000"/>
<rect x="195" y="482" width="1" height="1" fill="#FF0000"/>
<rect x="196" y="483" width="1" height="1" fill="#FF0000"/>
<rect x="59" y="484" width="3" height="1" fill="#FF0000"/>
<rect x="79" y="484" width="1" height="1" fill="#FF0000"/>
<rect x="197" y="484" width="1" height="1" fill="#FF0000"/>
<rect x="65" y="485" width="3" height="1" fill="#FF0000"/>
<rect x="77" y="485" width="2" height="1" fill="#FF0000"/>
<rect x="71" y="487" width="3" height="1" fill="#FF0000"/>
<rect x="201" y="488" width="2" height="1" fill="#FF0000"/>
<rect x="203" y="489" width="1" height="1" fill="#FF0000"/>
<rect x="207" y="492" width="2" height="1" fill="#FF0000"/>
<rect x="209" y="493" width="1" height="1" fill="#FF0000"/>
<rect x="733" y="493" width="2" height="1" fill="#FF0000"/>
<rect x="213" y="494" width="1" height="1" fill="#FF0000"/>
<rect x="732" y="494" width="1" height="1" fill="#FF0000"/>
<rect x="214" y="495" width="2" height="1" fill="#FF0000"/>
<rect x="219" y="497" width="3" height="1" fill="#FF0000"/>
<rect x="225" y="498" width="3" height="1" fill="#FF0000"/>
<rect x="728" y="498" width="1" height="1" fill="#FF0000"/>
<rect x="231" y="499" width="3" height="1" fill="#FF0000"/>
<rect x="727" y="499" width="1" height="1" fill="#FF0000"/>
<rect x="237" y="500" width="1" height="1" fill="#FF0000"/>
<rect x="726" y="500" width="1" height="1" fill="#FF0000"/>
<rect x="238" y="501" width="2" height="1" fill="#FF0000"/>
<rect x="243" y="504" width="1" height="1" fill="#FF0000"/>
<rect x="722" y="504" width="2" height="1" fill="#FF0000"/>
<rect x="244" y="505" width="1" height="1" fill="#FF0000"/>
<rect x="721" y="505" width="1" height="1" fill="#FF0000"/>
<rect x="245" y="506" width="1" height="1" fill="#FF0000"/>
<rect x="715" y="507" width="3" height="1" fill="#FF0000"/>
<rect x="249" y="509" width="1" height="1" fill="#FF0000"/>
<rect x="710" y="509" width="2" height="1" fill="#FF0000"/>
<rect x="250" y="510" width="1" height="1" fill="#FF0000"/>
<rect x="709" y="510" width="1" height="1" fill="#FF0000"/>
<rect x="251" y="511" width="1" height="1" fill="#FF0000"/>
<rect x="703" y="511" width="3" height="1" fill="#FF0000"/>
<rect x="699" y="514" width="1" height="1" fill="#FF0000"/>
<rect x="254" y="515" width="1" height="1" fill="#FF0000"/>
<rect x="698" y="515" width="1" height="1" fill="#FF0000"/>
<rect x="255" y="516" width="1" height="1" fill="#FF0000"/>
<rect x="697" y="516" width="1" height="1" fill="#FF0000"/>
<rect x="256" y="517" width="1" height="1" fill="#FF0000"/>
<rect x="694" y="520" width="1" height="1" fill="#FF0000"/>
<rect x="258" y="521" width="1" height="1" fill="#FF0000"/>
<rect x="693" y="521" width="1" height="1" fill="#FF0000"/>
<rect x="259" y="522" width="1" height="1" fill="#FF0000"/>
<rect x="693" y="522" width="1" height="1" fill="#FF0000"/>
<rect x="260" y="523" width="1" height="1" fill="#FF0000"/>
<rect x="690" y="526" width="1" height="1" fill="#FF0000"/>
<rect x="262" y="527" width="1" height="1" fill="#FF0000"/>
<rect x="689" y="527" width="1" height="1" fill="#FF0000"/>
<rect x="263" y="528" width="1" height="1" fill="#FF0000"/>
<rect x="688" y="528" width="1" height="1" fill="#FF0000"/>
<rect x="264" y="529" width="1" height="1" fill="#FF0000"/>
<rect x="686" y="532" width="1" height="1" fill="#FF0000"/>
<rect x="266" y="533" width="1" height="1" fill="#FF0000"/>
<rect x="685" y="533" width="1" height="1" fill="#FF0000"/>
<rect x="267" y="534" width="1" height="1" fill="#FF0000"/>
<rect x="684" y="534" width="1" height="1" fill="#FF0000"/>
<rect x="268" y="535" width="1" height="1" fill="#FF0000"/>
<rect x="658" y="536" width="1" height="1" fill="#FF0000"/>
<rect x="656" y="537" width="2" height="1" fill="#FF0000"/>
<rect x="662" y="537" width="2" height="1" fill="#FF0000"/>
<rect x="664" y="538" width="1" height="1" fill="#FF0000"/>
<rect x="681" y="538" width="1" height="1" fill="#FF0000"/>
<rect x="271" y="539" width="1" height="1" fill="#FF0000"/>
<rect x="651" y="539" width="2" height="1" fill="#FF0000"/>
<rect x="681" y="539" width="1" height="1" fill="#FF0000"/>
<rect x="272" y="540" width="1" height="1" fill="#FF0000"/>
<rect x="438" y="540" width="1" height="1" fill="#FF0000"/>
<rect x="442" y="540" width="3" height="1" fill="#FF0000"/>
<rect x="448" y="540" width="3" height="1" fill="#FF0000"/>
<rect x="454" y="540" width="3" height="1" fill="#FF0000"/>
<rect x="650" y="540" width="1" height="1" fill="#FF0000"/>
<rect x="680" y="540" width="1" height="1" fill="#FF0000"/>
<rect x="273" y="541" width="1" height="1" fill="#FF0000"/>
<rect x="336" y="541" width="2" height="1" fill="#FF0000"/>
<rect x="437" y="541" width="1" height="1" fill="#FF0000"/>
<rect x="668" y="541" width="1" height="1" fill="#FF0000"/>
<rect x="338" y="542" width="1" height="1" fill="#FF0000"/>
<rect x="436" y="542" width="1" height="1" fill="#FF0000"/>
<rect x="646" y="542" width="1" height="1" fill="#FF0000"/>
<rect x="669" y="542" width="2" height="1" fill="#FF0000"/>
<rect x="330" y="543" width="3" height="1" fill="#FF0000"/>
<rect x="342" y="543" width="2" height="1" fill="#FF0000"/>
<rect x="430" y="543" width="3" height="1" fill="#FF0000"/>
<rect x="460" y="543" width="1" height="1" fill="#FF0000"/>
<rect x="645" y="543" width="1" height="1" fill="#FF0000"/>
<rect x="674" y="543" width="3" height="1" fill="#FF0000"/>
<rect x="326" y="544" width="1" height="1" fill="#FF0000"/>
<rect x="344" y="544" width="1" height="1" fill="#FF0000"/>
<rect x="461" y="544" width="1" height="1" fill="#FF0000"/>
<rect x="644" y="544" width="1" height="1" fill="#FF0000"/>
<rect x="276" y="545" width="1" height="1" fill="#FF0000"/>
<rect x="325" y="545" width="1" height="1" fill="#FF0000"/>
<rect x="426" y="545" width="1" height="1" fill="#FF0000"/>
<rect x="462" y="545" width="1" height="1" fill="#FF0000"/>
<rect x="632" y="545" width="3" height="1" fill="#FF0000"/>
<rect x="638" y="545" width="3" height="1" fill="#FF0000"/>
<rect x="277" y="546" width="1" height="1" fill="#FF0000"/>
<rect x="324" y="546" width="1" height="1" fill="#FF0000"/>
<rect x="425" y="546" width="1" height="1" fill="#FF0000"/>
<rect x="626" y="546" width="3" height="1" fill="#FF0000"/>
<rect x="278" y="547" width="1" height="1" fill="#FF0000"/>
<rect x="348" y="547" width="1" height="1" fill="#FF0000"/>
<rect x="424" y="547" width="1" height="1" fill="#FF0000"/>
<rect x="318" y="548" width="3" height="1" fill="#FF0000"/>
<rect x="349" y="548" width="2" height="1" fill="#FF0000"/>
<rect x="622" y="548" width="1" height="1" fill="#FF0000"/>
<rect x="314" y="549" width="1" height="1" fill="#FF0000"/>
<rect x="465" y="549" width="1" height="1" fill="#FF0000"/>
<rect x="621" y="549" width="1" height="1" fill="#FF0000"/>
<rect x="312" y="550" width="2" height="1" fill="#FF0000"/>
<rect x="420" y="550" width="1" height="1" fill="#FF0000"/>
<rect x="466" y="550" width="1" height="1" fill="#FF0000"/>
<rect x="620" y="550" width="1" height="1" fill="#FF0000"/>
<rect x="282" y="551" width="1" height="1" fill="#FF0000"/>
<rect x="354" y="551" width="1" height="1" fill="#FF0000"/>
<rect x="419" y="551" width="1" height="1" fill="#FF0000"/>
<rect x="467" y="551" width="1" height="1" fill="#FF0000"/>
<rect x="283" y="552" width="2" height="1" fill="#FF0000"/>
<rect x="302" y="552" width="1" height="1" fill="#FF0000"/>
<rect x="306" y="552" width="3" height="1" fill="#FF0000"/>
<rect x="355" y="552" width="1" height="1" fill="#FF0000"/>
<rect x="418" y="552" width="1" height="1" fill="#FF0000"/>
<rect x="301" y="553" width="1" height="1" fill="#FF0000"/>
<rect x="356" y="553" width="1" height="1" fill="#FF0000"/>
<rect x="616" y="553" width="1" height="1" fill="#FF0000"/>
<rect x="288" y="554" width="2" height="1" fill="#FF0000"/>
<rect x="300" y="554" width="1" height="1" fill="#FF0000"/>
<rect x="471" y="554" width="3" height="1" fill="#FF0000"/>
<rect x="614" y="554" width="2" height="1" fill="#FF0000"/>
<rect x="290" y="555" width="1" height="1" fill="#FF0000"/>
<rect x="294" y="555" width="3" height="1" fill="#FF0000"/>
<rect x="360" y="556" width="1" height="1" fill="#FF0000"/>
<rect x="413" y="556" width="2" height="1" fill="#FF0000"/>
<rect x="477" y="556" width="1" height="1" fill="#FF0000"/>
<rect x="610" y="556" width="1" height="1" fill="#FF0000"/>
<rect x="361" y="557" width="2" height="1" fill="#FF0000"/>
<rect x="412" y="557" width="1" height="1" fill="#FF0000"/>
<rect x="478" y="557" width="2" height="1" fill="#FF0000"/>
<rect x="536" y="557" width="2" height="1" fill="#FF0000"/>
<rect x="609" y="557" width="1" height="1" fill="#FF0000"/>
<rect x="538" y="558" width="1" height="1" fill="#FF0000"/>
<rect x="608" y="558" width="1" height="1" fill="#FF0000"/>
<rect x="483" y="559" width="2" height="1" fill="#FF0000"/>
<rect x="531" y="559" width="2" height="1" fill="#FF0000"/>
<rect x="542" y="559" width="3" height="1" fill="#FF0000"/>
<rect x="366" y="560" width="1" height="1" fill="#FF0000"/>
<rect x="485" y="560" width="1" height="1" fill="#FF0000"/>
<rect x="530" y="560" width="1" height="1" fill="#FF0000"/>
<rect x="548" y="560" width="2" height="1" fill="#FF0000"/>
<rect x="603" y="560" width="2" height="1" fill="#FF0000"/>
<rect x="367" y="561" width="1" height="1" fill="#FF0000"/>
<rect x="408" y="561" width="1" height="1" fill="#FF0000"/>
<rect x="550" y="561" width="1" height="1" fill="#FF0000"/>
<rect x="554" y="561" width="3" height="1" fill="#FF0000"/>
<rect x="560" y="561" width="3" height="1" fill="#FF0000"/>
<rect x="602" y="561" width="1" height="1" fill="#FF0000"/>
<rect x="368" y="562" width="1" height="1" fill="#FF0000"/>
<rect x="407" y="562" width="1" height="1" fill="#FF0000"/>
<rect x="406" y="563" width="1" height="1" fill="#FF0000"/>
<rect x="489" y="563" width="1" height="1" fill="#FF0000"/>
<rect x="525" y="563" width="2" height="1" fill="#FF0000"/>
<rect x="566" y="563" width="1" height="1" fill="#FF0000"/>
<rect x="598" y="563" width="1" height="1" fill="#FF0000"/>
<rect x="490" y="564" width="1" height="1" fill="#FF0000"/>
<rect x="524" y="564" width="1" height="1" fill="#FF0000"/>
<rect x="567" y="564" width="2" height="1" fill="#FF0000"/>
<rect x="597" y="564" width="1" height="1" fill="#FF0000"/>
<rect x="491" y="565" width="1" height="1" fill="#FF0000"/>
<rect x="596" y="565" width="1" height="1" fill="#FF0000"/>
<rect x="371" y="566" width="1" height="1" fill="#FF0000"/>
<rect x="372" y="567" width="1" height="1" fill="#FF0000"/>
<rect x="402" y="567" width="2" height="1" fill="#FF0000"/>
<rect x="520" y="567" width="1" height="1" fill="#FF0000"/>
<rect x="572" y="567" width="1" height="1" fill="#FF0000"/>
<rect x="592" y="567" width="1" height="1" fill="#FF0000"/>
<rect x="373" y="568" width="1" height="1" fill="#FF0000"/>
<rect x="401" y="568" width="1" height="1" fill="#FF0000"/>
<rect x="518" y="568" width="2" height="1" fill="#FF0000"/>
<rect x="573" y="568" width="2" height="1" fill="#FF0000"/>
<rect x="590" y="568" width="2" height="1" fill="#FF0000"/>
<rect x="494" y="569" width="1" height="1" fill="#FF0000"/>
<rect x="586" y="569" width="1" height="1" fill="#FF0000"/>
<rect x="397" y="570" width="1" height="1" fill="#FF0000"/>
<rect x="495" y="570" width="2" height="1" fill="#FF0000"/>
<rect x="514" y="570" width="1" height="1" fill="#FF0000"/>
<rect x="585" y="570" width="1" height="1" fill="#FF0000"/>
<rect x="396" y="571" width="1" height="1" fill="#FF0000"/>
<rect x="512" y="571" width="2" height="1" fill="#FF0000"/>
<rect x="578" y="571" width="3" height="1" fill="#FF0000"/>
<rect x="584" y="571" width="1" height="1" fill="#FF0000"/>
<rect x="377" y="572" width="2" height="1" fill="#FF0000"/>
<rect x="395" y="572" width="1" height="1" fill="#FF0000"/>
<rect x="500" y="572" width="2" height="1" fill="#FF0000"/>
<rect x="506" y="572" width="3" height="1" fill="#FF0000"/>
<rect x="379" y="573" width="1" height="1" fill="#FF0000"/>
<rect x="502" y="573" width="1" height="1" fill="#FF0000"/>
<rect x="383" y="574" width="3" height="1" fill="#FF0000"/>
<rect x="389" y="574" width="3" height="1" fill="#FF0000"/>
</g>
<g shape-rendering="crispEdges">
<rect x="3" y="34" width="757" height="1" fill="#FF0000"/>
<rect x="3" y="127" width="757" height="1" fill="#FF0000"/>
<rect x="3" y="231" width="757" height="1" fill="#FF0000"/>
<rect x="3" y="407" width="757" height="1" fill="#FF0000"/>
<rect x="3" y="177" width="1" height="15" fill="#1E90FF"/>
<rect x="2" y="187" width="3" height="1" fill="#1E90FF"/>
<rect x="7" y="178" width="1" height="12" fill="#1E90FF"/>
<rect x="6" y="187" width="3" height="3" fill="#1E90FF"/>
<rect x="11" y="182" width="1" height="10" fill="#FF0000"/>
<rect x="10" y="184" width="3" height="8" fill="#FF0000"/>
<rect x="15" y="182" width="1" height="10" fill="#1E90FF"/>
<rect x="14" y="185" width="3" height="5" fill="#1E90FF"/>
<rect x="19" y="185" width="1" height="9" fill="#FF0000"/>
<rect x="18" y="187" width="3" height="3" fill="#FF0000"/>
<rect x="23" y="185" width="1" height="7" fill="#FF0000"/>
<rect x="22" y="187" width="3" height="5" fill="#FF0000"/>
<rect x="27" y="182" width="1" height="12" fill="#1E90FF"/>
<rect x="26" y="185" width="3" height="3" fill="#1E90FF"/>
<rect x="31" y="178" width="1" height="14" fill="#1E90FF"/>
<rect x="30" y="180" width="3" height="10" fill="#1E90FF"/>
<rect x="35" y="173" width="1" height="12" fill="#1E90FF"/>
<rect x="34" y="173" width="3" height="10" fill="#1E90FF"/>
<rect x="39" y="173" width="1" height="10" fill="#FF0000"/>
<rect x="38" y="177" width="3" height="2" fill="#FF0000"/>
<rect x="43" y="175" width="1" height="8" fill="#1E90FF"/>
<rect x="42" y="180" width="3" height="1" fill="#1E90FF"/>
<rect x="47" y="177" width="1" height="13" fill="#FF0000"/>
<rect x="46" y="177" width="3" height="11" fill="#FF0000"/>
<rect x="51" y="177" width="1" height="20" fill="#FF0000"/>
<rect x="50" y="184" width="3" height="10" fill="#FF0000"/>
<rect x="55" y="175" width="1" height="26" fill="#1E90FF"/>
<rect x="54" y="180" width="3" height="10" fill="#1E90FF"/>
<rect x="59" y="168" width="1" height="18" fill="#1E90FF"/>
<rect x="58" y="173" width="3" height="10" fill="#1E90FF"/>
<rect x="63" y="171" width="1" height="14" fill="#FF0000"/>
<rect x="62" y="175" width="3" height="3" fill="#FF0000"/>
<rect x="67" y="170" width="1" height="20" fill="#FF0000"/>
<rect x="66" y="173" width="3" height="12" fill="#FF0000"/>
<rect x="71" y="157" width="1" height="45" fill="#FF0000"/>
<rect x="70" y="182" width="3" height="8" fill="#FF0000"/>
<rect x="75" y="171" width="1" height="60" fill="#1E90FF"/>
<rect x="74" y="185" width="3" height="7" fill="#1E90FF"/>
<rect x="79" y="95" width="1" height="95" fill="#1E90FF"/>
<rect x="78" y="109" width="3" height="79" fill="#1E90FF"/>
<rect x="83" y="78" width="1" height="41" fill="#1E90FF"/>
<rect x="82" y="102" width="3" height="10" fill="#1E90FF"/>
<rect x="87" y="85" width="1" height="22" fill="#1E90FF"/>
<rect x="86" y="92" width="3" height="8" fill="#1E90FF"/>
<rect x="91" y="85" width="1" height="25" fill="#FF0000"/>
<rect x="90" y="94" width="3" height="15" fill="#FF0000"/>
<rect x="95" y="99" width="1" height="17" fill="#FF0000"/>
<rect x="94" y="106" width="3" height="3" fill="#FF0000"/>
<rect x="99" y="94" width="1" height="15" fill="#1E90FF"/>
<rect x="98" y="104" width="3" height="1" fill="#1E90FF"/>
<rect x="103" y="99" width="1" height="13" fill="#FF0000"/>
<rect x="102" y="106" width="3" height="3" fill="#FF0000"/>
<rect x="107" y="102" width="1" height="16" fill="#FF0000"/>
<rect x="106" y="104" width="3" height="10" fill="#FF0000"/>
<rect x="111" y="104" width="1" height="14" fill="#1E90FF"/>
<rect x="110" y="109" width="3" height="3" fill="#1E90FF"/>
<rect x="115" y="104" width="1" height="14" fill="#FF0000"/>
<rect x="114" y="106" width="3" height="6" fill="#FF0000"/>
<rect x="119" y="108" width="1" height="10" fill="#FF0000"/>
<rect x="118" y="109" width="3" height="7" fill="#FF0000"/>
<rect x="123" y="106" width="1" height="10" fill="#1E90FF"/>
<rect x="122" y="109" width="3" height="3" fill="#1E90FF"/>
<rect x="127" y="92" width="1" height="20" fill="#1E90FF"/>
<rect x="126" y="95" width="3" height="14" fill="#1E90FF"/>
<rect x="131" y="88" width="1" height="10" fill="#1E90FF"/>
<rect x="130" y="90" width="3" height="5" fill="#1E90FF"/>
<rect x="135" y="87" width="1" height="9" fill="#FF0000"/>
<rect x="134" y="92" width="3" height="3" fill="#FF0000"/>
<rect x="139" y="87" width="1" height="9" fill="#1E90FF"/>
<rect x="138" y="90" width="3" height="1" fill="#1E90FF"/>
<rect x="143" y="87" width="1" height="11" fill="#1E90FF"/>
<rect x="142" y="94" width="3" height="1" fill="#1E90FF"/>
<rect x="147" y="76" width="1" height="19" fill="#1E90FF"/>
<rect x="146" y="81" width="3" height="10" fill="#1E90FF"/>
<rect x="151" y="67" width="1" height="17" fill="#1E90FF"/>
<rect x="150" y="74" width="3" height="10" fill="#1E90FF"/>
<rect x="155" y="65" width="1" height="23" fill="#FF0000"/>
<rect x="154" y="76" width="3" height="10" fill="#FF0000"/>
<rect x="159" y="78" width="1" height="15" fill="#FF0000"/>
<rect x="158" y="81" width="3" height="7" fill="#FF0000"/>
<rect x="163" y="76" width="1" height="15" fill="#1E90FF"/>
<rect x="162" y="81" width="3" height="3" fill="#1E90FF"/>
<rect x="167" y="74" width="1" height="19" fill="#FF0000"/>
<rect x="166" y="78" width="3" height="2" fill="#FF0000"/>
<rect x="171" y="34" width="1" height="89" fill="#FF0000"/>
<rect x="170" y="76" width="3" height="26" fill="#FF0000"/>
<rect x="175" y="64" width="1" height="50" fill="#1E90FF"/>
<rect x="174" y="72" width="3" height="31" fill="#1E90FF"/>
<rect x="179" y="46" width="1" height="57" fill="#1E90FF"/>
<rect x="178" y="69" width="3" height="8" fill="#1E90FF"/>
<rect x="183" y="65" width="1" height="38" fill="#FF0000"/>
<rect x="182" y="71" width="3" height="27" fill="#FF0000"/>
<rect x="187" y="87" width="1" height="22" fill="#FF0000"/>
<rect x="186" y="94" width="3" height="9" fill="#FF0000"/>
<rect x="191" y="94" width="1" height="13" fill="#1E90FF"/>
<rect x="190" y="99" width="3" height="1" fill="#1E90FF"/>
<rect x="195" y="85" width="1" height="17" fill="#FF0000"/>
<rect x="194" y="95" width="3" height="3" fill="#FF0000"/>
<rect x="199" y="94" width="1" height="13" fill="#FF0000"/>
<rect x="198" y="94" width="3" height="6" fill="#FF0000"/>
<rect x="203" y="83" width="1" height="19" fill="#1E90FF"/>
<rect x="202" y="88" width="3" height="14" fill="#1E90FF"/>
<rect x="207" y="92" width="1" height="4" fill="#1E90FF"/>
<rect x="206" y="94" width="3" height="2" fill="#1E90FF"/>
<rect x="211" y="90" width="1" height="12" fill="#FF0000"/>
<rect x="210" y="90" width="3" height="12" fill="#FF0000"/>
<rect x="215" y="94" width="1" height="13" fill="#FF0000"/>
<rect x="214" y="97" width="3" height="8" fill="#FF0000"/>
<rect x="219" y="95" width="1" height="10" fill="#1E90FF"/>
<rect x="218" y="101" width="3" height="1" fill="#1E90FF"/>
<rect x="223" y="87" width="1" height="20" fill="#1E90FF"/>
<rect x="222" y="90" width="3" height="8" fill="#1E90FF"/>
<rect x="227" y="87" width="1" height="6" fill="#FF0000"/>
<rect x="226" y="87" width="3" height="6" fill="#FF0000"/>
<rect x="231" y="85" width="1" height="11" fill="#FF0000"/>
<rect x="230" y="88" width="3" height="8" fill="#FF0000"/>
<rect x="235" y="90" width="1" height="12" fill="#FF0000"/>
<rect x="234" y="92" width="3" height="8" fill="#FF0000"/>
<rect x="239" y="94" width="1" height="16" fill="#FF0000"/>
<rect x="238" y="101" width="3" height="9" fill="#FF0000"/>
<rect x="243" y="97" width="1" height="28" fill="#FF0000"/>
<rect x="242" y="106" width="3" height="12" fill="#FF0000"/>
<rect x="247" y="109" width="1" height="14" fill="#1E90FF"/>
<rect x="246" y="115" width="3" height="6" fill="#1E90FF"/>
<rect x="251" y="111" width="1" height="12" fill="#FF0000"/>
<rect x="250" y="111" width="3" height="10" fill="#FF0000"/>
<rect x="255" y="111" width="1" height="30" fill="#FF0000"/>
<rect x="254" y="118" width="3" height="17" fill="#FF0000"/>
<rect x="259" y="131" width="1" height="31" fill="#FF0000"/>
<rect x="258" y="131" width="3" height="17" fill="#FF0000"/>
<rect x="263" y="132" width="1" height="19" fill="#1E90FF"/>
<rect x="262" y="143" width="3" height="1" fill="#1E90FF"/>
<rect x="267" y="131" width="1" height="47" fill="#FF0000"/>
<rect x="266" y="141" width="3" height="30" fill="#FF0000"/>
<rect x="271" y="157" width="1" height="22" fill="#1E90FF"/>
<rect x="270" y="164" width="3" height="8" fill="#1E90FF"/>
<rect x="275" y="157" width="1" height="19" fill="#FF0000"/>
<rect x="274" y="162" width="3" height="10" fill="#FF0000"/>
<rect x="279" y="150" width="1" height="24" fill="#1E90FF"/>
<rect x="278" y="155" width="3" height="19" fill="#1E90FF"/>
<rect x="283" y="150" width="1" height="22" fill="#FF0000"/>
<rect x="282" y="152" width="3" height="20" fill="#FF0000"/>
<rect x="287" y="161" width="1" height="13" fill="#1E90FF"/>
<rect x="286" y="168" width="3" height="1" fill="#1E90FF"/>
<rect x="291" y="164" width="1" height="14" fill="#FF0000"/>
<rect x="290" y="166" width="3" height="10" fill="#FF0000"/>
<rect x="295" y="162" width="1" height="14" fill="#1E90FF"/>
<rect x="294" y="168" width="3" height="6" fill="#1E90FF"/>
<rect x="299" y="164" width="1" height="8" fill="#FF0000"/>
<rect x="298" y="166" width="3" height="3" fill="#FF0000"/>
<rect x="303" y="164" width="1" height="8" fill="#FF0000"/>
<rect x="302" y="170" width="3" height="2" fill="#FF0000"/>
<rect x="307" y="164" width="1" height="8" fill="#1E90FF"/>
<rect x="306" y="169" width="3" height="1" fill="#1E90FF"/>
<rect x="311" y="166" width="1" height="18" fill="#FF0000"/>
<rect x="310" y="166" width="3" height="18" fill="#FF0000"/>
<rect x="315" y="170" width="1" height="11" fill="#1E90FF"/>
<rect x="314" y="171" width="3" height="7" fill="#1E90FF"/>
<rect x="319" y="170" width="1" height="6" fill="#FF0000"/>
<rect x="318" y="170" width="3" height="4" fill="#FF0000"/>
<rect x="323" y="170" width="1" height="6" fill="#1E90FF"/>
<rect x="322" y="171" width="3" height="1" fill="#1E90FF"/>
<rect x="327" y="168" width="1" height="6" fill="#1E90FF"/>
<rect x="326" y="170" width="3" height="4" fill="#1E90FF"/>
<rect x="331" y="168" width="1" height="8" fill="#FF0000"/>
<rect x="330" y="171" width="3" height="5" fill="#FF0000"/>
<rect x="335" y="166" width="1" height="13" fill="#FF0000"/>
<rect x="334" y="173" width="3" height="5" fill="#FF0000"/>
<rect x="339" y="173" width="1" height="35" fill="#FF0000"/>
<rect x="338" y="178" width="3" height="23" fill="#FF0000"/>
<rect x="343" y="200" width="1" height="18" fill="#FF0000"/>
<rect x="342" y="201" width="3" height="5" fill="#FF0000"/>
<rect x="347" y="198" width="1" height="8" fill="#1E90FF"/>
<rect x="346" y="200" width="3" height="4" fill="#1E90FF"/>
<rect x="351" y="194" width="1" height="10" fill="#1E90FF"/>
<rect x="350" y="196" width="3" height="6" fill="#1E90FF"/>
<rect x="355" y="194" width="1" height="26" fill="#FF0000"/>
<rect x="354" y="198" width="3" height="10" fill="#FF0000"/>
<rect x="359" y="201" width="1" height="44" fill="#FF0000"/>
<rect x="358" y="208" width="3" height="28" fill="#FF0000"/>
<rect x="363" y="232" width="1" height="20" fill="#FF0000"/>
<rect x="362" y="233" width="3" height="6" fill="#FF0000"/>
<rect x="367" y="223" width="1" height="24" fill="#1E90FF"/>
<rect x="366" y="231" width="3" height="7" fill="#1E90FF"/>
<rect x="371" y="226" width="1" height="24" fill="#FF0000"/>
<rect x="370" y="230" width="3" height="15" fill="#FF0000"/>
<rect x="375" y="242" width="1" height="19" fill="#1E90FF"/>
<rect x="374" y="244" width="3" height="3" fill="#1E90FF"/>
<rect x="379" y="238" width="1" height="14" fill="#1E90FF"/>
<rect x="378" y="246" width="3" height="1" fill="#1E90FF"/>
<rect x="383" y="244" width="1" height="18" fill="#FF0000"/>
<rect x="382" y="244" width="3" height="6" fill="#FF0000"/>
<rect x="387" y="244" width="1" height="11" fill="#1E90FF"/>
<rect x="386" y="247" width="3" height="5" fill="#1E90FF"/>
<rect x="391" y="246" width="1" height="6" fill="#FF0000"/>
<rect x="390" y="246" width="3" height="6" fill="#FF0000"/>
<rect x="395" y="238" width="1" height="14" fill="#1E90FF"/>
<rect x="394" y="240" width="3" height="10" fill="#1E90FF"/>
<rect x="399" y="238" width="1" height="9" fill="#1E90FF"/>
<rect x="398" y="240" width="3" height="3" fill="#1E90FF"/>
<rect x="403" y="238" width="1" height="5" fill="#1E90FF"/>
<rect x="402" y="238" width="3" height="1" fill="#1E90FF"/>
<rect x="407" y="230" width="1" height="9" fill="#1E90FF"/>
<rect x="406" y="235" width="3" height="3" fill="#1E90FF"/>
<rect x="411" y="231" width="1" height="12" fill="#1E90FF"/>
<rect x="410" y="233" width="3" height="5" fill="#1E90FF"/>
<rect x="415" y="230" width="1" height="8" fill="#FF0000"/>
<rect x="414" y="232" width="3" height="4" fill="#FF0000"/>
<rect x="419" y="233" width="1" height="8" fill="#FF0000"/>
<rect x="418" y="233" width="3" height="6" fill="#FF0000"/>
<rect x="423" y="235" width="1" height="8" fill="#FF0000"/>
<rect x="422" y="237" width="3" height="4" fill="#FF0000"/>
<rect x="427" y="237" width="1" height="6" fill="#FF0000"/>
<rect x="426" y="238" width="3" height="5" fill="#FF0000"/>
<rect x="431" y="230" width="1" height="18" fill="#1E90FF"/>
<rect x="430" y="231" width="3" height="14" fill="#1E90FF"/>
<rect x="435" y="232" width="1" height="25" fill="#FF0000"/>
<rect x="434" y="233" width="3" height="22" fill="#FF0000"/>
<rect x="439" y="235" width="1" height="24" fill="#1E90FF"/>
<rect x="438" y="240" width="3" height="14" fill="#1E90FF"/>
<rect x="443" y="226" width="1" height="19" fill="#1E90FF"/>
<rect x="442" y="235" width="3" height="8" fill="#1E90FF"/>
<rect x="447" y="235" width="1" height="24" fill="#FF0000"/>
<rect x="446" y="237" width="3" height="22" fill="#FF0000"/>
<rect x="451" y="242" width="1" height="22" fill="#1E90FF"/>
<rect x="450" y="247" width="3" height="14" fill="#1E90FF"/>
<rect x="455" y="247" width="1" height="19" fill="#FF0000"/>
<rect x="454" y="249" width="3" height="10" fill="#FF0000"/>
<rect x="459" y="256" width="1" height="33" fill="#FF0000"/>
<rect x="458" y="260" width="3" height="25" fill="#FF0000"/>
<rect x="463" y="265" width="1" height="38" fill="#FF0000"/>
<rect x="462" y="283" width="3" height="13" fill="#FF0000"/>
<rect x="467" y="276" width="1" height="24" fill="#1E90FF"/>
<rect x="466" y="277" width="3" height="23" fill="#1E90FF"/>
<rect x="471" y="260" width="1" height="22" fill="#1E90FF"/>
<rect x="470" y="268" width="3" height="9" fill="#1E90FF"/>
<rect x="475" y="260" width="1" height="11" fill="#1E90FF"/>
<rect x="474" y="263" width="3" height="8" fill="#1E90FF"/>
<rect x="479" y="261" width="1" height="65" fill="#FF0000"/>
<rect x="478" y="261" width="3" height="56" fill="#FF0000"/>
<rect x="483" y="309" width="1" height="12" fill="#1E90FF"/>
<rect x="482" y="318" width="3" height="1" fill="#1E90FF"/>
<rect x="487" y="309" width="1" height="14" fill="#1E90FF"/>
<rect x="486" y="314" width="3" height="3" fill="#1E90FF"/>
<rect x="491" y="309" width="1" height="8" fill="#1E90FF"/>
<rect x="490" y="313" width="3" height="1" fill="#1E90FF"/>
<rect x="495" y="311" width="1" height="3" fill="#FF0000"/>
<rect x="494" y="311" width="3" height="3" fill="#FF0000"/>
<rect x="499" y="306" width="1" height="9" fill="#1E90FF"/>
<rect x="498" y="306" width="3" height="9" fill="#1E90FF"/>
<rect x="503" y="306" width="1" height="32" fill="#FF0000"/>
<rect x="502" y="307" width="3" height="30" fill="#FF0000"/>
<rect x="507" y="318" width="1" height="20" fill="#1E90FF"/>
<rect x="506" y="322" width="3" height="13" fill="#1E90FF"/>
<rect x="511" y="314" width="1" height="10" fill="#1E90FF"/>
<rect x="510" y="318" width="3" height="3" fill="#1E90FF"/>
<rect x="515" y="314" width="1" height="7" fill="#1E90FF"/>
<rect x="514" y="316" width="3" height="1" fill="#1E90FF"/>
<rect x="519" y="314" width="1" height="9" fill="#1E90FF"/>
<rect x="518" y="314" width="3" height="5" fill="#1E90FF"/>
<rect x="523" y="311" width="1" height="8" fill="#1E90FF"/>
<rect x="522" y="316" width="3" height="1" fill="#1E90FF"/>
<rect x="527" y="297" width="1" height="22" fill="#1E90FF"/>
<rect x="526" y="306" width="3" height="9" fill="#1E90FF"/>
<rect x="531" y="302" width="1" height="35" fill="#FF0000"/>
<rect x="530" y="304" width="3" height="27" fill="#FF0000"/>
<rect x="535" y="329" width="1" height="11" fill="#FF0000"/>
<rect x="534" y="329" width="3" height="8" fill="#FF0000"/>
<rect x="539" y="329" width="1" height="22" fill="#FF0000"/>
<rect x="538" y="334" width="3" height="17" fill="#FF0000"/>
<rect x="543" y="343" width="1" height="15" fill="#1E90FF"/>
<rect x="542" y="346" width="3" height="3" fill="#1E90FF"/>
<rect x="547" y="332" width="1" height="17" fill="#1E90FF"/>
<rect x="546" y="336" width="3" height="13" fill="#1E90FF"/>
<rect x="551" y="320" width="1" height="20" fill="#FF0000"/>
<rect x="550" y="334" width="3" height="3" fill="#FF0000"/>
<rect x="555" y="322" width="1" height="16" fill="#1E90FF"/>
<rect x="554" y="332" width="3" height="3" fill="#1E90FF"/>
<rect x="559" y="334" width="1" height="29" fill="#FF0000"/>
<rect x="558" y="334" width="3" height="26" fill="#FF0000"/>
<rect x="563" y="343" width="1" height="50" fill="#FF0000"/>
<rect x="562" y="357" width="3" height="24" fill="#FF0000"/>
<rect x="567" y="346" width="1" height="38" fill="#1E90FF"/>
<rect x="566" y="375" width="3" height="4" fill="#1E90FF"/>
<rect x="571" y="346" width="1" height="35" fill="#1E90FF"/>
<rect x="570" y="369" width="3" height="8" fill="#1E90FF"/>
<rect x="575" y="346" width="1" height="37" fill="#FF0000"/>
<rect x="574" y="367" width="3" height="9" fill="#FF0000"/>
<rect x="579" y="344" width="1" height="37" fill="#1E90FF"/>
<rect x="578" y="373" width="3" height="1" fill="#1E90FF"/>
<rect x="583" y="369" width="1" height="8" fill="#1E90FF"/>
<rect x="582" y="371" width="3" height="1" fill="#1E90FF"/>
<rect x="587" y="367" width="1" height="9" fill="#FF0000"/>
<rect x="586" y="369" width="3" height="5" fill="#FF0000"/>
<rect x="591" y="369" width="1" height="8" fill="#1E90FF"/>
<rect x="590" y="369" width="3" height="7" fill="#1E90FF"/>
<rect x="595" y="369" width="1" height="10" fill="#FF0000"/>
<rect x="594" y="371" width="3" height="6" fill="#FF0000"/>
<rect x="599" y="371" width="1" height="13" fill="#1E90FF"/>
<rect x="598" y="373" width="3" height="3" fill="#1E90FF"/>
<rect x="603" y="366" width="1" height="15" fill="#FF0000"/>
<rect x="602" y="375" width="3" height="2" fill="#FF0000"/>
<rect x="607" y="366" width="1" height="11" fill="#1E90FF"/>
<rect x="606" y="373" width="3" height="3" fill="#1E90FF"/>
<rect x="611" y="364" width="1" height="12" fill="#1E90FF"/>
<rect x="610" y="367" width="3" height="3" fill="#1E90FF"/>
<rect x="615" y="366" width="1" height="8" fill="#FF0000"/>
<rect x="614" y="369" width="3" height="3" fill="#FF0000"/>
<rect x="619" y="364" width="1" height="8" fill="#1E90FF"/>
<rect x="618" y="367" width="3" height="3" fill="#1E90FF"/>
<rect x="623" y="364" width="1" height="15" fill="#FF0000"/>
<rect x="622" y="364" width="3" height="12" fill="#FF0000"/>
<rect x="627" y="371" width="1" height="26" fill="#FF0000"/>
<rect x="626" y="376" width="3" height="15" fill="#FF0000"/>
<rect x="631" y="371" width="1" height="22" fill="#1E90FF"/>
<rect x="630" y="376" width="3" height="12" fill="#1E90FF"/>
<rect x="635" y="369" width="1" height="15" fill="#FF0000"/>
<rect x="634" y="375" width="3" height="9" fill="#FF0000"/>
<rect x="639" y="373" width="1" height="18" fill="#1E90FF"/>
<rect x="638" y="380" width="3" height="3" fill="#1E90FF"/>
<rect x="643" y="359" width="1" height="27" fill="#1E90FF"/>
<rect x="642" y="371" width="3" height="8" fill="#1E90FF"/>
<rect x="647" y="355" width="1" height="22" fill="#1E90FF"/>
<rect x="646" y="364" width="3" height="4" fill="#1E90FF"/>
<rect x="651" y="357" width="1" height="33" fill="#FF0000"/>
<rect x="650" y="366" width="3" height="15" fill="#FF0000"/>
<rect x="655" y="373" width="1" height="31" fill="#1E90FF"/>
<rect x="654" y="380" width="3" height="3" fill="#1E90FF"/>
<rect x="659" y="375" width="1" height="27" fill="#FF0000"/>
<rect x="658" y="376" width="3" height="22" fill="#FF0000"/>
<rect x="663" y="390" width="1" height="17" fill="#FF0000"/>
<rect x="662" y="399" width="3" height="3" fill="#FF0000"/>
<rect x="667" y="396" width="1" height="11" fill="#1E90FF"/>
<rect x="666" y="401" width="3" height="3" fill="#1E90FF"/>
<rect x="671" y="385" width="1" height="22" fill="#1E90FF"/>
<rect x="670" y="390" width="3" height="8" fill="#1E90FF"/>
<rect x="675" y="378" width="1" height="15" fill="#1E90FF"/>
<rect x="674" y="382" width="3" height="6" fill="#1E90FF"/>
<rect x="679" y="375" width="1" height="8" fill="#1E90FF"/>
<rect x="678" y="376" width="3" height="5" fill="#1E90FF"/>
<rect x="683" y="350" width="1" height="15" fill="#1E90FF"/>
<rect x="682" y="353" width="3" height="10" fill="#1E90FF"/>
<rect x="687" y="346" width="1" height="15" fill="#FF0000"/>
<rect x="686" y="352" width="3" height="9" fill="#FF0000"/>
<rect x="691" y="350" width="1" height="15" fill="#1E90FF"/>
<rect x="690" y="359" width="3" height="1" fill="#1E90FF"/>
<rect x="695" y="350" width="1" height="15" fill="#1E90FF"/>
<rect x="694" y="357" width="3" height="4" fill="#1E90FF"/>
<rect x="699" y="355" width="1" height="10" fill="#FF0000"/>
<rect x="698" y="360" width="3" height="3" fill="#FF0000"/>
<rect x="703" y="355" width="1" height="10" fill="#FF0000"/>
<rect x="702" y="359" width="3" height="6" fill="#FF0000"/>
<rect x="707" y="359" width="1" height="9" fill="#FF0000"/>
<rect x="706" y="360" width="3" height="5" fill="#FF0000"/>
<rect x="711" y="352" width="1" height="15" fill="#1E90FF"/>
<rect x="710" y="359" width="3" height="8" fill="#1E90FF"/>
<rect x="715" y="339" width="1" height="21" fill="#1E90FF"/>
<rect x="714" y="343" width="3" height="13" fill="#1E90FF"/>
<rect x="719" y="339" width="1" height="31" fill="#FF0000"/>
<rect x="718" y="344" width="3" height="24" fill="#FF0000"/>
<rect x="723" y="313" width="1" height="57" fill="#1E90FF"/>
<rect x="722" y="316" width="3" height="54" fill="#1E90FF"/>
<rect x="727" y="309" width="1" height="17" fill="#FF0000"/>
<rect x="726" y="313" width="3" height="6" fill="#FF0000"/>
<rect x="731" y="313" width="1" height="27" fill="#FF0000"/>
<rect x="730" y="314" width="3" height="24" fill="#FF0000"/>
<rect x="735" y="318" width="1" height="22" fill="#1E90FF"/>
<rect x="734" y="329" width="3" height="6" fill="#1E90FF"/>
</g>
<g shape-rendering="crispEdges">
<rect x="2" y="2" width="759" height="1" fill="#000"/>
<rect x="2" y="428" width="759" height="1" fill="#000"/>
<rect x="2" y="430" width="759" height="1" fill="#000"/>
<rect x="2" y="582" width="760" height="1" fill="#000"/>
<rect x="2" y="2" width="1" height="427" fill="#000"/>
<rect x="2" y="430" width="1" height="153" fill="#000"/>
<rect x="760" y="2" width="1" height="427" fill="#000"/>
<rect x="760" y="430" width="1" height="153" fill="#000"/>
<rect x="761" y="30" width="2" height="1" fill="#000"/>
<rect x="761" y="65" width="2" height="1" fill="#000"/>
<rect x="761" y="101" width="2" height="1" fill="#000"/>
<rect x="761" y="136" width="2" height="1" fill="#000"/>
<rect x="761" y="171" width="2" height="1" fill="#000"/>
<rect x="761" y="207" width="2" height="1" fill="#000"/>
<rect x="761" y="242" width="2" height="1" fill="#000"/>
<rect x="761" y="277" width="2" height="1" fill="#000"/>
<rect x="761" y="313" width="2" height="1" fill="#000"/>
<rect x="761" y="348" width="2" height="1" fill="#000"/>
<rect x="761" y="383" width="2" height="1" fill="#000"/>
<rect x="761" y="419" width="2" height="1" fill="#000"/>
<rect x="761" y="432" width="1" height="1" fill="#000"/>
<rect x="761" y="581" width="1" height="1" fill="#000"/>
<rect x="761" y="511" width="2" height="1" fill="#000"/>
<rect x="3" y="583" width="1" height="3" fill="#000"/>
<rect x="67" y="583" width="1" height="3" fill="#000"/>
<rect x="131" y="583" width="1" height="3" fill="#000"/>
<rect x="195" y="583" width="1" height="3" fill="#000"/>
<rect x="259" y="583" width="1" height="3" fill="#000"/>
<rect x="323" y="583" width="1" height="3" fill="#000"/>
<rect x="387" y="583" width="1" height="3" fill="#000"/>
<rect x="451" y="583" width="1" height="3" fill="#000"/>
<rect x="515" y="583" width="1" height="3" fill="#000"/>
<rect x="579" y="583" width="1" height="3" fill="#000"/>
<rect x="643" y="583" width="1" height="3" fill="#000"/>
<rect x="707" y="583" width="1" height="3" fill="#000"/>
</g>
<text x="766" y="33" textLength="28" lengthAdjust="spacingAndGlyphs">0.8955</text>
<text x="766" y="68" textLength="28" lengthAdjust="spacingAndGlyphs">0.8935</text>
<text x="766" y="104" textLength="28" lengthAdjust="spacingAndGlyphs">0.8915</text>
<text x="766" y="139" textLength="28" lengthAdjust="spacingAndGlyphs">0.8895</text>
<text x="766" y="174" textLength="28" lengthAdjust="spacingAndGlyphs">0.8875</text>
<text x="766" y="210" textLength="28" lengthAdjust="spacingAndGlyphs">0.8855</text>
<text x="766" y="245" textLength="28" lengthAdjust="spacingAndGlyphs">0.8835</text>
<text x="766" y="280" textLength="28" lengthAdjust="spacingAndGlyphs">0.8815</text>
<text x="766" y="316" textLength="28" lengthAdjust="spacingAndGlyphs">0.8795</text>
<text x="766" y="351" textLength="28" lengthAdjust="spacingAndGlyphs">0.8775</text>
<text x="766" y="386" textLength="28" lengthAdjust="spacingAndGlyphs">0.8755</text>
<text x="766" y="422" textLength="28" lengthAdjust="spacingAndGlyphs">0.8735</text>
<text x="764" y="441" textLength="28" lengthAdjust="spacingAndGlyphs">0.0037</text>
<text x="764" y="514" textLength="18" lengthAdjust="spacingAndGlyphs">0.00</text>
<text x="764" y="579" textLength="36.5" lengthAdjust="spacingAndGlyphs">-0.00326</text>
<text x="2.5" y="595" textLength="46" lengthAdjust="spacingAndGlyphs">2 Apr 2014</text>
<text x="66.5" y="595" textLength="48.5" lengthAdjust="spacingAndGlyphs">3 Apr 12:00</text>
<text x="130.5" y="595" textLength="48.5" lengthAdjust="spacingAndGlyphs">4 Apr 04:00</text>
<text x="194.5" y="595" textLength="48.5" lengthAdjust="spacingAndGlyphs">4 Apr 20:00</text>
<text x="258.5" y="595" textLength="48.5" lengthAdjust="spacingAndGlyphs">7 Apr 13:00</text>
<text x="322.5" y="595" textLength="48.5" lengthAdjust="spacingAndGlyphs">8 Apr 05:00</text>
<text x="386.5" y="595" textLength="48.5" lengthAdjust="spacingAndGlyphs">8 Apr 21:00</text>
<text x="450.5" y="595" textLength="48.5" lengthAdjust="spacingAndGlyphs">9 Apr 13:00</text>
<text x="514.5" y="595" textLength="53.5" lengthAdjust="spacingAndGlyphs">10 Apr 05:00</text>
<text x="578.5" y="595" textLength="53.5" lengthAdjust="spacingAndGlyphs">10 Apr 21:00</text>
<text x="642.5" y="595" textLength="53.5" lengthAdjust="spacingAndGlyphs">11 Apr 13:00</text>
<text x="706.5" y="595" textLength="53.5" lengthAdjust="spacingAndGlyphs">14 Apr 06:00</text>
<rect x="18" y="5" width="183" height="10" fill="#FFFAFA"/>
<polygon points="5.5,9 13.5,9 9.5,13" fill="#000"/>
<text x="19" y="14" textLength="53.5" lengthAdjust="spacingAndGlyphs">USDCHF,H1</text>
<text x="79.5" y="14" textLength="27.5" lengthAdjust="spacingAndGlyphs">0.8783</text>
<text x="110.5" y="14" textLength="27.5" lengthAdjust="spacingAndGlyphs">0.8792</text>
<text x="141.5" y="14" textLength="27.5" lengthAdjust="spacingAndGlyphs">0.8780</text>
<text x="172.5" y="14" textLength="27.5" lengthAdjust="spacingAndGlyphs">0.8786</text>
<text x="7.5" y="443" textLength="60" lengthAdjust="spacingAndGlyphs">MACD(5,34,5)</text>
<text x="71" y="443" textLength="33" lengthAdjust="spacingAndGlyphs">0.00123</text>
<text x="107.5" y="443" textLength="32.5" lengthAdjust="spacingAndGlyphs">0.00096</text>
<text x="7.5" y="578" textLength="231.5" lengthAdjust="spacingAndGlyphs">MetaTrader, © 2001-2014, MetaQuotes Software Corp.</text>
<rect x="762" y="28" width="36" height="11" fill="#FF0000" shape-rendering="crispEdges"/>
<rect x="762" y="121" width="36" height="11" fill="#FF0000" shape-rendering="crispEdges"/>
<rect x="762" y="225" width="36" height="11" fill="#FF0000" shape-rendering="crispEdges"/>
<rect x="762" y="401" width="36" height="11" fill="#FF0000" shape-rendering="crispEdges"/>
<text x="766" y="37" textLength="28" lengthAdjust="spacingAndGlyphs" class="w">0.8953</text>
<text x="766" y="130" textLength="28" lengthAdjust="spacingAndGlyphs" class="w">0.8900</text>
<text x="766" y="234" textLength="28" lengthAdjust="spacingAndGlyphs" class="w">0.8841</text>
<text x="766" y="410" textLength="28" lengthAdjust="spacingAndGlyphs" class="w">0.8742</text>
<rect x="762" y="323" width="36" height="11" fill="#000" shape-rendering="crispEdges"/>
<text x="766" y="332" textLength="28" lengthAdjust="spacingAndGlyphs" class="w">0.8786</text>
</svg></body></html>
